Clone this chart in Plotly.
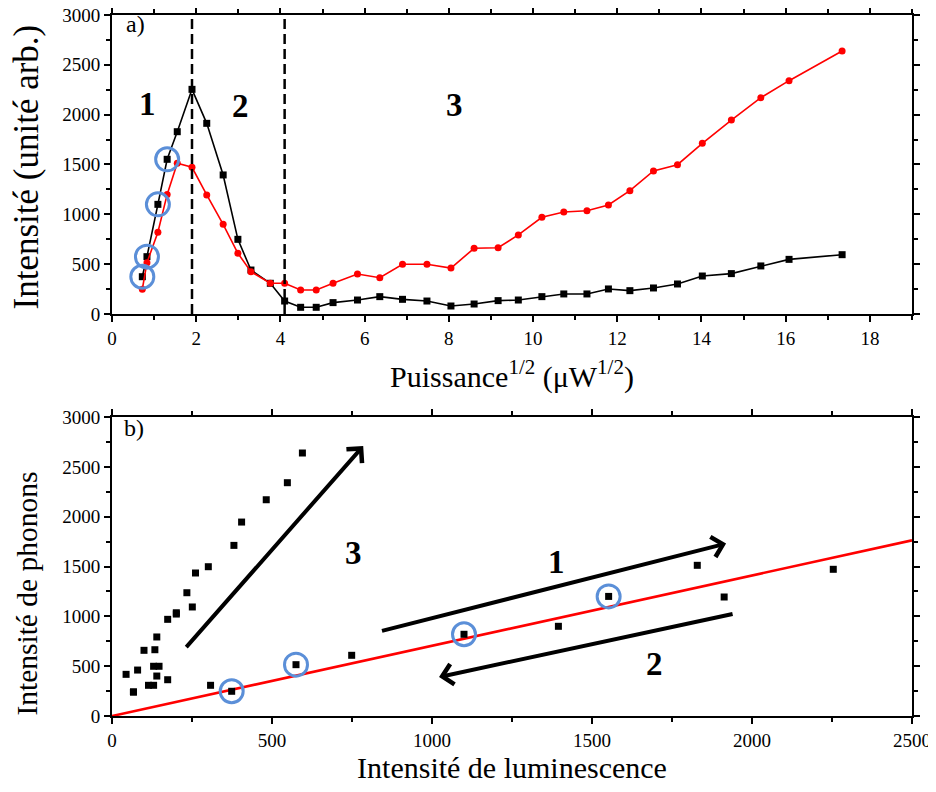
import plotly.graph_objects as go

# ---------------- data ----------------
# Panel a) : square root of power vs intensities
sqrt_power = [0.72, 0.83, 1.09, 1.31, 1.55, 1.90, 2.25, 2.64, 2.99, 3.30, 3.76, 4.10,
              4.48, 4.85, 5.25, 5.83, 6.36, 6.90, 7.48, 8.05, 8.60, 9.17, 9.65, 10.21,
              10.73, 11.28, 11.79, 12.30, 12.86, 13.43, 14.02, 14.71, 15.41, 16.08, 17.34]
lum_a = [374, 575, 1100, 1552, 1829, 2254, 1913, 1395, 749, 441, 308, 130,
         67, 67, 114, 140, 174, 147, 130, 80, 100, 134, 140, 174,
         201, 201, 251, 234, 261, 301, 381, 405, 482, 548, 595]
phon_a = [248, 515, 820, 1200, 1512, 1472, 1194, 900, 609, 424, 308, 308,
          241, 241, 308, 401, 364, 499, 499, 461, 659, 665, 793, 970,
          1023, 1036, 1094, 1237, 1435, 1498, 1712, 1946, 2170, 2341, 2639]

# Panel b) : phonon intensity vs luminescence intensity
lum_b = [374, 575, 1100, 1552, 1829, 2254, 1913, 1395, 749, 44, 308, 130,
         67, 67, 114, 140, 174, 147, 130, 80, 100, 134, 140, 174,
         201, 201, 251, 234, 261, 301, 381, 405, 482, 548, 595]
phon_b = [248, 515, 820, 1200, 1512, 1472, 1194, 900, 609, 418, 308, 308,
          241, 241, 308, 401, 364, 499, 499, 461, 659, 665, 793, 970,
          1023, 1036, 1094, 1237, 1435, 1498, 1712, 1946, 2170, 2341, 2639]

highlight_idx = [0, 1, 2, 3]
region_bounds = [1.9, 4.1]
fit_slope = 0.705
fit_x = [0, 2500]
fit_y = [fit_slope * v for v in fit_x]

FONT = "'Liberation Serif', 'Times New Roman', Times, serif"
BLUE = "#5b8fd8"

fig = go.Figure()

# ---------- panel a ----------
fig.add_trace(go.Scatter(x=sqrt_power, y=lum_a, mode="lines+markers",
                         line=dict(color="black", width=1.6),
                         marker=dict(symbol="square", size=7, color="black"),
                         xaxis="x", yaxis="y", showlegend=False))
fig.add_trace(go.Scatter(x=sqrt_power, y=phon_a, mode="lines+markers",
                         line=dict(color="#ff0000", width=1.6),
                         marker=dict(symbol="circle", size=7, color="#ff0000"),
                         xaxis="x", yaxis="y", showlegend=False))
fig.add_trace(go.Scatter(x=[sqrt_power[i] for i in highlight_idx],
                         y=[lum_a[i] for i in highlight_idx], mode="markers",
                         marker=dict(symbol="circle-open", size=23, color=BLUE,
                                     line=dict(width=3, color=BLUE)),
                         xaxis="x", yaxis="y", showlegend=False))

# ---------- panel b ----------
fig.add_trace(go.Scatter(x=fit_x, y=fit_y, mode="lines",
                         line=dict(color="#ff0000", width=2.6),
                         xaxis="x2", yaxis="y2", showlegend=False))
fig.add_trace(go.Scatter(x=lum_b, y=phon_b, mode="markers",
                         marker=dict(symbol="square", size=7, color="black"),
                         xaxis="x2", yaxis="y2", showlegend=False))
fig.add_trace(go.Scatter(x=[lum_b[i] for i in highlight_idx],
                         y=[phon_b[i] for i in highlight_idx], mode="markers",
                         marker=dict(symbol="circle-open", size=23, color=BLUE,
                                     line=dict(width=3, color=BLUE)),
                         xaxis="x2", yaxis="y2", showlegend=False))

# dashed region boundaries
for xb in region_bounds:
    fig.add_shape(type="line", xref="x", yref="y domain", x0=xb, x1=xb, y0=0, y1=1,
                  line=dict(color="black", width=2.5, dash="10px,5px"))

tickfont = dict(family=FONT, size=19, color="black")


def axis_common(**kw):
    d = dict(showline=True, linewidth=2, linecolor="black", mirror="allticks",
             ticks="outside", ticklen=6, tickwidth=1.5, tickcolor="black",
             showgrid=False, zeroline=False, tickfont=tickfont, automargin=False,
             ticklabeloverflow="allow")
    d.update(kw)
    return d


# the page body adds an 8 px margin, so the figure is 16 px smaller than the window
fig.update_layout(
    width=920, height=776,
    margin=dict(l=104, r=16, t=7, b=68, autoexpand=False),
    paper_bgcolor="white", plot_bgcolor="white",
    font=dict(family=FONT, color="black"),
    xaxis=axis_common(domain=[0, 1], range=[0, 19], tick0=0, dtick=2, anchor="y",
                      minor=dict(dtick=1, ticks="outside", ticklen=4, tickwidth=1.5, tickcolor="black"),
                      title=dict(text="Puissance<sup>1/2</sup> (μW<sup>1/2</sup>)",
                                 font=dict(family=FONT, size=30, color="black"), standoff=18)),
    yaxis=axis_common(domain=[0.5735, 1], range=[0, 3000], tick0=0, dtick=500, anchor="x",
                      minor=dict(dtick=250, ticks="outside", ticklen=4, tickwidth=1.5, tickcolor="black")),
    xaxis2=axis_common(domain=[0, 1], range=[0, 2500], tick0=0, dtick=500, anchor="y2",
                       minor=dict(dtick=250, ticks="outside", ticklen=4, tickwidth=1.5, tickcolor="black"),
                       title=dict(text="Intensité de luminescence",
                                  font=dict(family=FONT, size=30, color="black"), standoff=14)),
    yaxis2=axis_common(domain=[0, 0.4265], range=[0, 3000], tick0=0, dtick=500, anchor="x2",
                       minor=dict(dtick=250, ticks="outside", ticklen=4, tickwidth=1.5, tickcolor="black")),
)

big = dict(family=FONT, size=33, color="black")
ann = []
# y-axis titles (rotated annotations for exact placement)
ann.append(dict(text="Intensité (unité arb.)", textangle=-90, xref="paper", yref="y domain",
                x=-0.1075, y=0.49, xanchor="center", yanchor="middle", showarrow=False,
                font=dict(family=FONT, size=35, color="black")))
ann.append(dict(text="Intensité de phonons", textangle=-90, xref="paper", yref="y2 domain",
                x=-0.106, y=0.41, xanchor="center", yanchor="middle", showarrow=False,
                font=dict(family=FONT, size=29.5, color="black")))
# panel labels
ann.append(dict(text="a)", xref="x domain", yref="y domain", x=0.015, y=1.0, yshift=6,
                xanchor="left", yanchor="top", showarrow=False,
                font=dict(family=FONT, size=24, color="black")))
ann.append(dict(text="b)", xref="x2 domain", yref="y2 domain", x=0.012, y=1.0, yshift=4,
                xanchor="left", yanchor="top", showarrow=False,
                font=dict(family=FONT, size=24, color="black")))
# region numbers panel a
for t, xx, yy in [("1", 0.85, 2110), ("2", 3.06, 2085), ("3", 8.13, 2095)]:
    ann.append(dict(text="<b>%s</b>" % t, xref="x", yref="y", x=xx, y=yy,
                    showarrow=False, font=big))
# region numbers panel b
for t, xx, yy in [("1", 1389, 1545), ("2", 1694, 526), ("3", 756, 1636)]:
    ann.append(dict(text="<b>%s</b>" % t, xref="x2", yref="y2", x=xx, y=yy,
                    showarrow=False, font=big))
# arrows panel b
for (x0, y0, x1, y1) in [(228, 676, 785, 2709), (839, 850, 1919, 1730), (1944, 1027, 1022, 391)]:
    ann.append(dict(text="", xref="x2", yref="y2", axref="x2", ayref="y2",
                    x=x1, y=y1, ax=x0, ay=y0, showarrow=True,
                    arrowhead=4, arrowsize=1, arrowwidth=4, arrowcolor="black", standoff=0))
fig.update_layout(annotations=ann)

fig.write_html("out.html")
